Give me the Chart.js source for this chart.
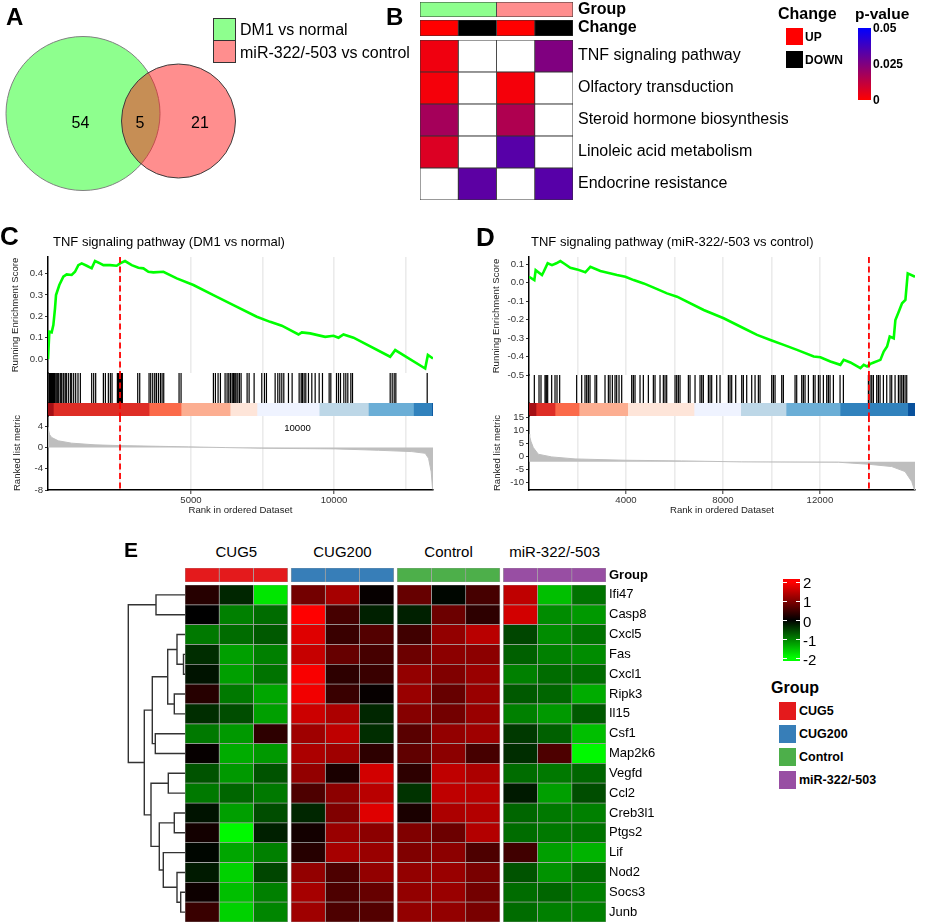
<!DOCTYPE html>
<html><head><meta charset="utf-8">
<script src="https://cdn.jsdelivr.net/npm/chart.js@4.4.1/dist/chart.umd.min.js"></script>
<style>
html,body{margin:0;padding:0;background:#fff}
body{position:relative;width:933px;height:923px;overflow:hidden;font-family:"Liberation Sans",Arial,Helvetica,sans-serif;color:#000}
canvas{position:absolute}
.t{position:absolute;white-space:nowrap;line-height:1;transform:translateY(-50%)}
.tc{transform:translate(-50%,-50%)}
.b{font-weight:bold}
.sw{position:absolute;box-sizing:border-box}
</style></head><body>
<script>
// ---------------- DATA ----------------
// Panel A (Venn)
const vennSets = ['DM1 vs normal', 'miR-322/-503 vs control'];
const vennCounts = [54, 5, 21]; // DM1 only, shared, miR only

// Panel B (pathway heatmap, p-values; null = not enriched)
const pathways = ['TNF signaling pathway', 'Olfactory transduction', 'Steroid hormone biosynthesis', 'Linoleic acid metabolism', 'Endocrine resistance'];
const bGroups = ['DM1 vs normal', 'miR-322/-503 vs control'];
const bChange = ['UP', 'DOWN', 'UP', 'DOWN'];
const pDM1Up = [0.003, 0.002, 0.0176, 0.0069, null];
const pDM1Down = [null, null, null, null, 0.032];
const pMiRUp = [null, 0.002, 0.0157, 0.033, null];
const pMiRDown = [0.025, null, null, null, 0.033];
const pLegendTicks = ['0.05', '0.025', '0'];

// Panel C (GSEA DM1 vs normal)
const titleC = 'TNF signaling pathway (DM1 vs normal)';
const esRankC = [0,47,128,187,245,280,396,536,653,828,944,1061,1178,1353,1527,1644,1819,1936,2169,2402,2519,2693,2927,3160,3335,3510,3685,4034,4501,5084,5783,6483,7299,7766,8174,8757,8873,9165,9690,9981,10156,10331,10681,11963,12138,13187,13281,13460];
const esValC = [0,0.128,0.125,0.159,0.237,0.299,0.346,0.385,0.396,0.393,0.408,0.439,0.447,0.436,0.424,0.458,0.447,0.439,0.439,0.436,0.447,0.458,0.439,0.427,0.424,0.408,0.405,0.408,0.377,0.346,0.299,0.252,0.198,0.174,0.156,0.115,0.125,0.120,0.104,0.109,0.100,0.115,0.100,0.011,0.042,-0.044,0.019,0.003];
const hitsC = [35,58,93,128,163,198,233,280,326,373,431,478,536,595,641,711,781,828,898,968,1049,1131,1527,1597,1667,1936,2006,2110,2180,2239,2425,2460,2495,2530,2565,2600,3137,3207,3533,3591,3661,3731,3790,3859,3929,3988,4046,4582,4652,5783,5853,5946,6028,6191,6261,6320,6378,6436,6483,6530,6576,6635,6693,6751,6961,7031,7206,7474,7567,7637,7941,8034,8104,8174,8244,8407,8535,8780,8850,8897,8955,9013,9106,9223,9340,9480,9596,9829,9888,10086,10156,10226,10342,10412,10482,10587,10646,11963,12033,12103,12161,13257];
const metricRankC = [0,12,58,128,361,828,1644,2460,4909,6191,7474,10039,11555,12721,13187,13304,13397,13444,13460];
const metricValC = [3.8,3.4,2.41,1.90,1.27,0.83,0.51,0.38,0.13,0.0,-0.13,-0.25,-0.51,-0.76,-1.08,-2.03,-4.57,-7.75,-7.9];
const bandBreaksC = [0,187,3533,4652,6366,7305,9480,11200,12776,13420,13460];
const leadingEdgeC = 2518;
const xGridC = [2500,5000,7500,10000,12500];
const xLabelsC = [5000,10000];
const esTicksC = [0,0.1,0.2,0.3,0.4];
const metricTicksC = [-8,-4,0,4];

// Panel D (GSEA miR-322/-503 vs control)
const titleD = 'TNF signaling pathway (miR-322/-503 vs control)';
const esRankD = [0,220,275,536,605,770,949,1128,1293,1430,1705,1980,2324,2530,2943,3630,3974,4318,4730,5143,5693,6105,7205,8030,8855,9405,9955,10505,11055,11743,12018,12430,12843,12980,13255,13668,13805,13943,14080,14218,14493,14630,14768,14878,15043,15111,15249,15386,15524,15620,15920];
const esValD = [0.032,0.014,0.068,0.041,0.059,0.105,0.095,0.105,0.117,0.105,0.081,0.072,0.056,0.086,0.063,0.041,0.032,0.014,-0.004,-0.027,-0.058,-0.076,-0.148,-0.193,-0.247,-0.283,-0.310,-0.337,-0.364,-0.400,-0.404,-0.427,-0.445,-0.418,-0.432,-0.463,-0.445,-0.454,-0.440,-0.432,-0.418,-0.373,-0.346,-0.292,-0.301,-0.202,-0.157,-0.112,-0.094,0.050,0.032];
const hitsD = [220,413,495,660,715,770,935,1073,1155,1265,1966,2173,2310,2379,2448,2516,2723,2791,3135,3273,3341,3438,3548,3616,3713,3823,4235,4304,4373,4579,4716,4923,5129,5198,5404,5541,5610,5679,6023,6091,6160,6229,6573,6641,6848,7054,7123,7191,7398,7466,7535,7741,7879,8223,8291,8360,8525,8773,8841,8979,9185,9323,9460,9529,10010,10079,10148,10423,10491,10973,11041,11248,11316,11385,11523,11729,11798,11935,12004,12141,12279,12348,12416,12554,12829,12966,13998,14066,14135,14204,14341,14410,14479,14616,14754,14891,14960,15098,15235,15304,15373,15441,15510,15579];
const metricRankD = [0,28,83,179,385,935,1898,3960,6298,8773,12760,14000,14960,15510,15785,15895,15920];
const metricValD = [8.5,7.56,5.64,3.33,0.77,-0.26,-1.03,-1.54,-1.79,-2.18,-2.31,-3.08,-3.97,-5.9,-9.74,-12.9,-13];
const metricBaseD = -2.1;
const bandBreaksD = [0,289,1073,2063,4070,6806,8731,10601,12829,15620,15920];
const leadingEdgeD = 14020;
const xGridD = [2000,4000,6000,8000,10000,12000,14000];
const xLabelsD = [4000,8000,12000];
const esTicksD = [-0.5,-0.4,-0.3,-0.2,-0.1,0,0.1];
const metricTicksD = [-10,-5,0,5,10,15];
const bandColors = ['#A50F15','#DE2D26','#FB6A4A','#FCAE91','#FEE5D9','#EFF3FF','#BDD7E7','#6BAED6','#3182BD','#08519C'];

// Panel E (z-score heatmap)
const genes = ['Ifi47','Casp8','Cxcl5','Fas','Cxcl1','Ripk3','Il15','Csf1','Map2k6','Vegfd','Ccl2','Creb3l1','Ptgs2','Lif','Nod2','Socs3','Junb'];
const eGroups = ['CUG5','CUG200','Control','miR-322/-503'];
const eGroupColors = ['#E41A1C','#377EB8','#4DAF4A','#984EA3'];
const heatCUG5 = [[0.3,-0.3,-1.8],[0,-1.0,-0.85],[-0.95,-0.85,-0.7],[-0.35,-1.25,-1.0],[-0.15,-1.25,-0.9],[0.3,-0.95,-1.3],[-0.35,-0.6,-1.25],[-0.95,-1.2,0.35],[0.05,-1.35,-1.2],[-0.65,-1.2,-0.65],[-0.95,-0.8,-0.95],[-0.15,-1.25,-0.6],[0.15,-1.95,-0.25],[-0.05,-1.3,-1.0],[-0.2,-1.65,-0.55],[0.1,-1.5,-1.0],[0.45,-1.65,-1.05]];
const heatCUG200 = [[0.9,1.3,0.05],[2.0,0.55,-0.25],[1.75,0.45,0.65],[1.55,0.8,0.55],[1.95,0.35,0.45],[1.9,0.45,0.05],[1.6,1.35,-0.3],[1.25,1.5,-0.35],[1.35,1.25,0.35],[1.15,0.2,1.65],[0.6,1.1,1.45],[-0.3,1.0,1.75],[0.15,1.2,1.1],[0.3,1.3,1.2],[1.15,0.6,1.15],[1.3,0.6,0.8],[1.25,0.6,0.65]];
const heatControl = [[0.8,-0.05,0.55],[-0.25,0.85,0.35],[0.5,1.15,1.45],[0.85,1.1,1.1],[1.15,1.0,1.2],[1.2,0.8,1.2],[1.05,0.9,1.2],[0.7,1.15,1.25],[0.75,1.1,0.55],[0.35,1.5,1.35],[-0.4,1.5,1.45],[0.2,1.35,1.4],[1.0,0.85,1.4],[1.0,1.1,0.6],[1.15,1.2,0.95],[1.15,1.2,0.9],[1.15,1.15,0.95]];
const heatMiR = [[1.5,-1.5,-0.9],[1.65,-1.1,-1.2],[-0.55,-1.1,-0.9],[-0.75,-1.0,-1.1],[-1.0,-0.85,-0.85],[-0.7,-0.8,-1.35],[-1.0,-1.2,-0.7],[-0.45,-0.75,-1.5],[-0.35,0.6,-1.95],[-0.85,-0.95,-0.8],[-0.2,-1.25,-0.6],[-0.8,-0.95,-1.0],[-0.85,-0.95,-0.9],[0.5,-1.25,-1.4],[-0.65,-1.15,-0.85],[-0.85,-0.8,-1.0],[-0.85,-1.0,-1.0]];
const zTicks = [2,1,0,-1,-2];
// dendrogram merges: [child A, child B, height]
const dendroMerges = [['Ifi47','Casp8',29],['Fas','Cxcl1',1.5],['Cxcl5','m1',8],['Ripk3','Il15',10.7],['m2','m3',17.3],['Csf1','Map2k6',29.7],['m4','m5',32.7],['Vegfd','Ccl2',16.7],['Creb3l1','Ptgs2',10.7],['Socs3','Junb',4.3],['Nod2','m9',8],['Lif','m10',21.7],['m8','m11',25.7],['m7','m12',34],['m6','m13',40.7],['m0','m14',56.7]];

// ---------------- HELPERS ----------------
Chart.defaults.font.family = '"Liberation Sans", Arial, Helvetica, sans-serif';
Chart.defaults.color = '#000';

function T(s, x, y, size, o) {
  o = o || {};
  const d = document.createElement('div');
  d.className = 't' + (o.c ? ' tc' : '') + (o.b ? ' b' : '');
  d.textContent = s;
  d.style.left = x + 'px'; d.style.top = y + 'px'; d.style.fontSize = size + 'px';
  if (o.color) d.style.color = o.color;
  document.body.appendChild(d);
  return d;
}
function R(x, y, w, h, bg, border) {
  const d = document.createElement('div');
  d.className = 'sw';
  d.style.left = x + 'px'; d.style.top = y + 'px'; d.style.width = w + 'px'; d.style.height = h + 'px';
  d.style.background = bg;
  if (border) d.style.border = border;
  document.body.appendChild(d);
  return d;
}
function chartAt(a, m, cfg, plugins) {
  const c = document.createElement('canvas');
  const w = a.r - a.l + m.l + m.r, h = a.b - a.t + m.t + m.b;
  c.width = w; c.height = h;
  c.style.left = (a.l - m.l) + 'px'; c.style.top = (a.t - m.t) + 'px';
  c.style.width = w + 'px'; c.style.height = h + 'px';
  document.body.appendChild(c);
  const o = cfg.options = cfg.options || {};
  o.responsive = false; o.maintainAspectRatio = false; o.animation = false; o.devicePixelRatio = 1; o.events = [];
  o.plugins = Object.assign({legend: {display: false}, tooltip: {enabled: false}}, o.plugins || {});
  o.layout = {autoPadding: false, padding: {left: m.l - (m.yl || 0), right: m.r - (m.yr || 0), top: m.t, bottom: m.b - (m.xb || 0)}};
  if (plugins) cfg.plugins = plugins;
  return new Chart(c, cfg);
}
const fixW = W => s => { s.width = W; s.paddingLeft = s.paddingRight = s.paddingTop = s.paddingBottom = 0; };
const fixH = H => s => { s.height = H; s.paddingLeft = s.paddingRight = s.paddingTop = s.paddingBottom = 0; };
const setTicks = vals => s => { s.ticks = vals.map(v => ({value: v})); };

function heatColor(v) {
  v = Math.max(-2, Math.min(2, v));
  return v >= 0 ? `rgb(${Math.round(255 * v / 2)},0,0)` : `rgb(0,${Math.round(-255 * v / 2)},0)`;
}
function pColor(p) {
  if (p == null) return '#FFFFFF';
  const t = Math.max(0, Math.min(1, p / 0.05));
  return `rgb(${Math.round(255 * (1 - t))},0,${Math.round(255 * t)})`;
}
const dashPlugin = {
  id: 'dash',
  afterDatasetsDraw(chart, args, opts) {
    if (!opts || opts.x == null) return;
    const x = chart.scales.x.getPixelForValue(opts.x);
    const {top, bottom} = chart.chartArea;
    const ctx = chart.ctx;
    ctx.save(); ctx.strokeStyle = '#FF0000'; ctx.lineWidth = 1.8; ctx.setLineDash([6, 3.5]);
    ctx.beginPath(); ctx.moveTo(x, top); ctx.lineTo(x, bottom); ctx.stroke(); ctx.restore();
  }
};
const cellDefaults = {borderSkipped: false, barPercentage: 1, categoryPercentage: 1, grouped: false};

// ---------------- PANEL A ----------------
chartAt({l: 0, t: 0, r: 245, b: 205}, {l: 0, t: 0, r: 0, b: 0}, {
  type: 'bubble',
  data: {datasets: [
    {data: [{x: 178.5, y: 121, r: 57}], backgroundColor: 'rgba(255,30,30,0.5)', borderColor: '#3c3c3c', borderWidth: 1, clip: false},
    {data: [{x: 83, y: 113.5, r: 77}], backgroundColor: 'rgba(30,255,30,0.5)', borderColor: '#808080', borderWidth: 1, clip: false}
  ]},
  options: {scales: {x: {display: false, min: 0, max: 245}, y: {display: false, min: 0, max: 205, reverse: true}}}
});
T(String(vennCounts[0]), 80.5, 123, 16, {c: 1});
T(String(vennCounts[1]), 140, 123, 16, {c: 1});
T(String(vennCounts[2]), 200, 123, 16, {c: 1});
R(213, 18, 23, 23, '#8EFF8E', '1px solid #333');
R(213, 40, 23, 23, '#FF8E8E', '1px solid #333');
T(vennSets[0], 240, 30, 16);
T(vennSets[1], 240, 52.5, 16);
T('A', 6, 16.5, 24, {b: 1});

// ---------------- PANEL B ----------------
const bAxisW = 215;
chartAt({l: 420, t: 2, r: 573, b: 17}, {l: 2, t: 2, r: bAxisW + 4, b: 2, yr: bAxisW}, {
  type: 'bar',
  data: {labels: ['Group'], datasets: bGroups.map((g, i) => Object.assign({data: [[i * 2, i * 2 + 2]], backgroundColor: i === 0 ? '#8EFF8E' : '#FF8E8E', borderColor: '#333', borderWidth: 0.8}, cellDefaults))},
  options: {indexAxis: 'y', scales: {x: {type: 'linear', display: false, min: 0, max: 4}, y: {position: 'right', grid: {display: false, drawTicks: false}, border: {display: false}, ticks: {font: {size: 16, weight: 'bold'}, color: '#000', padding: 5}, afterFit: fixW(bAxisW)}}}
});
chartAt({l: 420, t: 20, r: 573, b: 36}, {l: 2, t: 2, r: bAxisW + 4, b: 2, yr: bAxisW}, {
  type: 'bar',
  data: {labels: ['Change'], datasets: bChange.map((c, i) => Object.assign({data: [[i, i + 1]], backgroundColor: c === 'UP' ? '#FF0000' : '#000000', borderColor: '#333', borderWidth: 0.8}, cellDefaults))},
  options: {indexAxis: 'y', scales: {x: {type: 'linear', display: false, min: 0, max: 4}, y: {position: 'right', grid: {display: false, drawTicks: false}, border: {display: false}, ticks: {font: {size: 16, weight: 'bold'}, color: '#000', padding: 5}, afterFit: fixW(bAxisW)}}}
});
const bCols = [pDM1Up, pDM1Down, pMiRUp, pMiRDown];
chartAt({l: 420, t: 40, r: 573, b: 200}, {l: 2, t: 2, r: bAxisW + 4, b: 2, yr: bAxisW}, {
  type: 'bar',
  data: {labels: pathways, datasets: bCols.map((col, j) => Object.assign({data: pathways.map(() => [j, j + 1]), backgroundColor: col.map(pColor), borderColor: '#333', borderWidth: 0.8}, cellDefaults))},
  options: {indexAxis: 'y', scales: {x: {type: 'linear', display: false, min: 0, max: 4}, y: {position: 'right', grid: {display: false, drawTicks: false}, border: {display: false}, ticks: {font: {size: 16}, color: '#000', padding: 5, autoSkip: false}, afterFit: fixW(bAxisW)}}}
});
T('B', 386, 16.5, 24, {b: 1});
T('Change', 778, 13.5, 16, {b: 1});
R(786, 28, 17, 17, '#FF0000');
T('UP', 805, 36.5, 12, {b: 1});
R(786, 51, 17, 17, '#000000');
T('DOWN', 805, 60, 12, {b: 1});
T('p-value', 855, 13.5, 15.5, {b: 1});
R(858, 28, 13, 72, 'linear-gradient(to bottom,#0000FF,#FF0000)');
T(pLegendTicks[0], 873, 28, 12, {b: 1});
T(pLegendTicks[1], 873, 64, 12, {b: 1});
T(pLegendTicks[2], 873, 100, 12, {b: 1});

// ---------------- PANELS C & D (GSEA) ----------------
function gsea(p) {
  const tf = {size: 9.6};
  const ttl = t => ({display: true, text: t, font: {size: 9.6}, color: '#222', padding: {top: 0, bottom: 0}});
  const xs = show => ({
    type: 'linear', min: 0, max: p.xmax, display: true,
    afterBuildTicks: setTicks(p.grid),
    ticks: {display: show, font: tf, color: '#333', padding: 1, maxRotation: 0, autoSkip: false, callback: v => p.lab.includes(v) ? String(v) : ''},
    grid: {color: '#EBEBEB', lineWidth: 1.6, drawTicks: show, tickLength: 4, tickWidth: 1, tickColor: c => (c.tick && p.lab.includes(c.tick.value)) ? '#333' : 'rgba(0,0,0,0)'},
    border: {display: show, color: '#000', width: 1.5},
    title: show ? ttl('Rank in ordered Dataset') : {display: false},
    afterFit: fixH(show ? 26 : 0)
  });
  const xHidden = {type: 'linear', min: 0, max: p.xmax, display: false};
  const yBorder = extra => Object.assign({display: true, ticks: {display: false}, grid: {display: false, drawTicks: false}, border: {color: '#000', width: 1.5}, afterFit: fixW(4)}, extra);
  const dash = {x: p.le};
  // running enrichment score
  chartAt({l: p.x0, t: p.esTop, r: p.x1, b: p.esBot}, {l: p.wES + 6, t: 8, r: 6, b: 8, yl: p.wES}, {
    type: 'line',
    data: {datasets: [{data: p.esR.map((r, i) => ({x: r, y: p.esV[i]})), borderColor: '#00FF00', borderWidth: 2.6, pointRadius: 0, fill: false}]},
    options: {scales: {x: xs(false), y: {type: 'linear', min: p.esMin, max: p.esMax, afterBuildTicks: setTicks(p.esT),
      ticks: {font: tf, color: '#333', padding: 2, callback: v => Number(v).toFixed(1)},
      grid: {drawOnChartArea: false, tickLength: 3, tickColor: '#333', tickWidth: 1},
      border: {color: '#000', width: 1.5}, title: ttl('Running Enrichment Score'), afterFit: fixW(p.wES)}},
      plugins: {dash}}
  }, [dashPlugin]);
  // hit ticks (vertical segments, broken by null points)
  const segs = [];
  p.hits.forEach(r => { segs.push({x: r, y: -1}, {x: r, y: 1}, {x: r, y: null}); });
  chartAt({l: p.x0, t: p.esBot, r: p.x1, b: p.tkBot}, {l: 10, t: 2, r: 6, b: 2, yl: 4}, {
    type: 'line',
    data: {datasets: [{data: segs, borderColor: '#000', borderWidth: 1.2, pointRadius: 0, spanGaps: false, fill: false}]},
    options: {scales: {x: xHidden, y: yBorder({type: 'linear', min: -1, max: 1})}, plugins: {dash}}
  }, [dashPlugin]);
  // colour band
  chartAt({l: p.x0, t: p.tkBot, r: p.x1, b: p.bandBot}, {l: 10, t: 2, r: 6, b: 2, yl: 4}, {
    type: 'bar',
    data: {labels: [''], datasets: bandColors.map((c, i) => Object.assign({data: [[p.band[i], p.band[i + 1]]], backgroundColor: c, borderWidth: 0}, cellDefaults))},
    options: {indexAxis: 'y', scales: {x: xHidden, y: yBorder({type: 'category'})}, plugins: {dash}}
  }, [dashPlugin]);
  // ranked list metric
  chartAt({l: p.x0, t: p.bandBot, r: p.x1, b: p.mBot}, {l: p.wM + 6, t: 8, r: 12, b: 30, yl: p.wM, xb: 26}, {
    type: 'line',
    data: {datasets: [{data: p.mR.map((r, i) => ({x: r, y: p.mV[i]})), borderColor: '#BEBEBE', backgroundColor: '#BEBEBE', borderWidth: 1, pointRadius: 0, fill: p.mFill}]},
    options: {scales: {x: xs(true), y: {type: 'linear', min: p.mMin, max: p.mMax, afterBuildTicks: setTicks(p.mT),
      ticks: {font: tf, color: '#333', padding: 2, callback: v => String(v)},
      grid: {drawOnChartArea: false, tickLength: 3, tickColor: '#333', tickWidth: 1},
      border: {color: '#000', width: 1.5}, title: ttl('Ranked list metric'), afterFit: fixW(p.wM)}},
      plugins: {dash}}
  }, [dashPlugin]);
}
gsea({x0: 48, x1: 433, esTop: 257, esBot: 373, tkBot: 403, bandBot: 416, mBot: 490, xmax: 13460,
  grid: xGridC, lab: xLabelsC, esMin: -0.065, esMax: 0.477, esT: esTicksC, mMin: -8, mMax: 5.95, mT: metricTicksC,
  esR: esRankC, esV: esValC, hits: hitsC, band: bandBreaksC, mR: metricRankC, mV: metricValC, mFill: 'origin', le: leadingEdgeC, wES: 38, wM: 36});
gsea({x0: 529, x1: 915, esTop: 257, esBot: 375, tkBot: 403, bandBot: 416, mBot: 490, xmax: 15920,
  grid: xGridD, lab: xLabelsD, esMin: -0.5, esMax: 0.139, esT: esTicksD, mMin: -13, mMax: 15.5, mT: metricTicksD,
  esR: esRankD, esV: esValD, hits: hitsD, band: bandBreaksD, mR: metricRankD, mV: metricValD, mFill: {value: metricBaseD}, le: leadingEdgeD, wES: 38, wM: 37});
T('C', 0, 235.5, 26, {b: 1});
T('D', 476, 236.5, 26, {b: 1});
T(titleC, 53, 241, 13);
T(titleD, 531, 241, 13);
T('10000', 297.5, 427.5, 9.6, {c: 1});

// ---------------- PANEL E ----------------
const GAP = 0.1, heatL = 185, heatR = 606, heatT = 585, heatB = 922, eAxisW = 70;
const unitPx = (heatR - heatL) / (12 + 3 * GAP);
const heatGroups = [heatCUG5, heatCUG200, heatControl, heatMiR];
const eSets = [], gSets = [];
heatGroups.forEach((mat, g) => {
  for (let k = 0; k < 3; k++) {
    const x0 = g * (3 + GAP) + k;
    eSets.push(Object.assign({data: genes.map(() => [x0, x0 + 1]), backgroundColor: mat.map(r => heatColor(r[k])), borderColor: '#A0A0A0', borderWidth: 0.7}, cellDefaults));
    gSets.push(Object.assign({data: [[x0, x0 + 1]], backgroundColor: eGroupColors[g], borderColor: '#A0A0A0', borderWidth: 0.7}, cellDefaults));
  }
});
const eX = {type: 'linear', display: false, min: 0, max: 12 + 3 * GAP};
chartAt({l: heatL, t: heatT, r: heatR, b: heatB}, {l: 2, t: 2, r: eAxisW + 4, b: 2, yr: eAxisW}, {
  type: 'bar', data: {labels: genes, datasets: eSets},
  options: {indexAxis: 'y', scales: {x: eX, y: {position: 'right', grid: {display: false, drawTicks: false}, border: {display: false}, ticks: {font: {size: 13}, color: '#000', padding: 3, autoSkip: false}, afterFit: fixW(eAxisW)}}}
});
chartAt({l: heatL, t: 568, r: heatR, b: 582}, {l: 2, t: 2, r: eAxisW + 4, b: 2, yr: eAxisW}, {
  type: 'bar', data: {labels: ['Group'], datasets: gSets},
  options: {indexAxis: 'y', scales: {x: eX, y: {position: 'right', grid: {display: false, drawTicks: false}, border: {display: false}, ticks: {font: {size: 13, weight: 'bold'}, color: '#000', padding: 3}, afterFit: fixW(eAxisW)}}}
});
// dendrogram
const nodes = {};
genes.forEach((g, i) => { nodes[g] = {y: i, h: 0}; });
const dendroSets = dendroMerges.map((m, k) => {
  const a = nodes[m[0]], b = nodes[m[1]];
  nodes['m' + k] = {y: (a.y + b.y) / 2, h: m[2]};
  return {data: [{x: a.h, y: a.y}, {x: m[2], y: a.y}, {x: m[2], y: b.y}, {x: b.h, y: b.y}], showLine: true, borderColor: '#333', borderWidth: 1.4, pointRadius: 0, fill: false};
});
chartAt({l: 122, t: heatT, r: 185, b: heatB}, {l: 2, t: 2, r: 2, b: 2}, {
  type: 'scatter', data: {datasets: dendroSets},
  options: {scales: {x: {type: 'linear', display: false, min: 0, max: 63, reverse: true}, y: {type: 'linear', display: false, min: -0.5, max: genes.length - 0.5, reverse: true}}}
});
eGroups.forEach((g, i) => T(g, heatL + (i * (3 + GAP) + 1.5) * unitPx, 551, 15, {c: 1}));
T('E', 124, 549, 21, {b: 1});
// legends
R(783, 579, 17, 82, 'linear-gradient(to bottom,#FF0000 0%,#FF0000 4%,#000000 50%,#00FF00 96%,#00FF00 100%)');
zTicks.forEach(v => {
  const y = 620.5 - v * 19.2;
  R(783, y - 0.5, 4, 1, '#FFFFFF');
  R(796, y - 0.5, 4, 1, '#FFFFFF');
  T(String(v), 803, y, 15);
});
T('Group', 771, 688, 16, {b: 1});
eGroups.forEach((g, i) => {
  R(779, 702 + i * 23, 17, 18, eGroupColors[i]);
  T(g, 799, 711 + i * 23, 12.5, {b: 1});
});
</script>
</body></html>
